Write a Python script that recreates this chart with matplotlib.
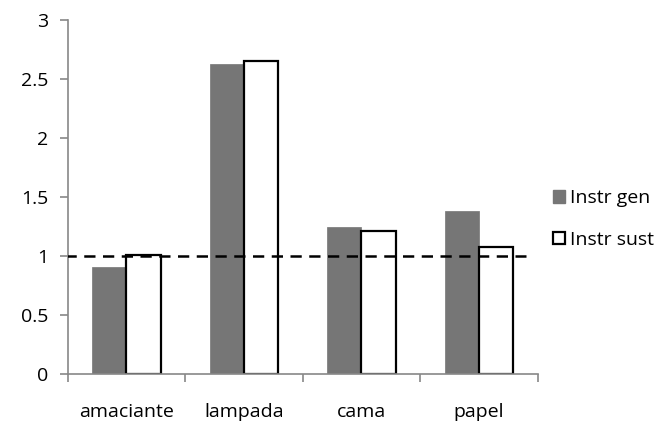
import numpy as np
import matplotlib
matplotlib.use("Agg")
import matplotlib.pyplot as plt
from matplotlib.patches import Patch

plt.rcParams['font.family'] = ['Open Sans', 'DejaVu Sans']

# datos
categorias = ["amaciante", "lampada", "cama", "papel"]
instr_gen = [0.91, 2.63, 1.25, 1.38]
instr_sust = [1.01, 2.655, 1.21, 1.075]
linea_ref = 1.0

fig = plt.figure(figsize=(6.59, 4.23), dpi=100)
ax = fig.add_axes([0.1027, 0.1158, 0.7133, 0.8369])

x = np.arange(len(categorias))
ancho = 0.29
gris = "#767676"

ax.bar(x - ancho / 2, instr_gen, ancho, color=gris, edgecolor=gris, linewidth=0.5, zorder=2)
ax.bar(x + ancho / 2, instr_sust, ancho, color="white", edgecolor="black", linewidth=1.6, zorder=2)

# linea de referencia discontinua
ax.plot([-0.52, 3.4], [linea_ref, linea_ref], color="black", linestyle=(0, (4.5, 3)),
        linewidth=1.8, zorder=3)

ax.set_xlim(-0.5, 3.5)
ax.set_ylim(0, 3)
ax.set_yticks(np.arange(0, 3.01, 0.5))
ax.set_yticklabels(["0", "0.5", "1", "1.5", "2", "2.5", "3"])

ax.set_xticks(np.arange(-0.5, 3.6, 1.0))
ax.set_xticklabels([])
ax.set_xticks(x, minor=True)
ax.set_xticklabels(categorias, minor=True)
ax.tick_params(axis="x", which="minor", length=0, pad=21, labelsize=14)
ax.tick_params(axis="x", which="major", length=6, color="#888888", width=1.2)
ax.tick_params(axis="y", length=6, color="#888888", width=1.2, labelsize=14, pad=8)

for lado in ["top", "right"]:
    ax.spines[lado].set_visible(False)
for lado in ["left", "bottom"]:
    ax.spines[lado].set_color("#888888")
    ax.spines[lado].set_linewidth(1.2)

handles = [Patch(facecolor=gris, edgecolor=gris, label="Instr gen"),
           Patch(facecolor="white", edgecolor="black", linewidth=1.6, label="Instr sust")]
fig.legend(handles=handles, loc="center left", bbox_to_anchor=(0.839, 0.482),
           frameon=False, fontsize=14, handlelength=0.6, handleheight=0.6,
           handletextpad=0.3, labelspacing=1.2, borderpad=0, borderaxespad=0)

fig.savefig("out.png", dpi=100)
